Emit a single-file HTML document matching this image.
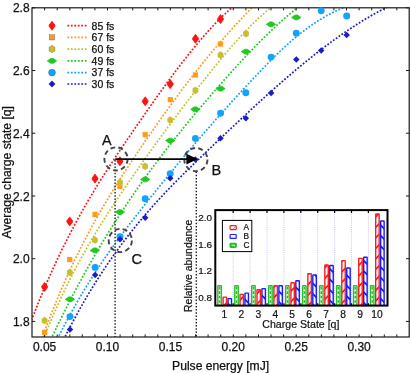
<!DOCTYPE html>
<html><head><meta charset="utf-8"><title>Chart</title>
<style>html,body{margin:0;padding:0;background:#fff;}body{width:410px;height:373px;overflow:hidden;position:relative;font-family:"Liberation Sans",sans-serif;}</style>
</head><body>
<svg width="410" height="373" viewBox="0 0 410 373" style="position:absolute;left:0;top:0;will-change:transform">
<defs><clipPath id="cp"><rect x="32" y="7.8" width="377.2" height="329.2"/></clipPath></defs>
<rect width="410" height="373" fill="#fff"/>
<g clip-path="url(#cp)" fill="none" stroke-width="1.7" stroke-dasharray="1.8 1.67">
<path d="M29.0,326.9 L29.9,324.6 L30.7,322.3 L31.6,320.0 L32.4,317.8 L33.3,315.6 L34.2,313.4 L35.0,311.2 L35.9,309.0 L36.7,306.9 L37.6,304.7 L38.4,302.6 L39.3,300.5 L40.2,298.4 L41.0,296.3 L41.9,294.2 L42.7,292.2 L43.6,290.1 L44.5,288.1 L45.3,286.1 L46.2,284.1 L47.0,282.1 L47.9,280.1 L48.7,278.2 L49.6,276.2 L50.5,274.3 L51.3,272.4 L52.2,270.5 L53.0,268.6 L53.9,266.7 L54.8,264.8 L55.6,263.0 L56.5,261.1 L57.3,259.3 L58.2,257.5 L59.1,255.7 L59.9,253.9 L60.8,252.1 L61.6,250.3 L62.5,248.6 L63.3,246.8 L64.2,245.1 L65.1,243.4 L65.9,241.7 L66.8,240.0 L67.6,238.3 L68.5,236.6 L69.4,234.9 L70.2,233.3 L71.1,231.6 L71.9,230.0 L72.8,228.3 L73.6,226.7 L74.5,225.1 L75.4,223.5 L76.2,221.9 L77.1,220.3 L77.9,218.7 L78.8,217.2 L79.7,215.6 L80.5,214.1 L81.4,212.5 L82.2,211.0 L83.1,209.5 L83.9,208.0 L84.8,206.5 L85.7,205.0 L86.5,203.5 L87.4,202.0 L88.2,200.5 L89.1,199.1 L90.0,197.6 L90.8,196.2 L91.7,194.7 L92.5,193.3 L93.4,191.9 L94.3,190.4 L95.1,189.0 L96.0,187.6 L96.8,186.2 L97.7,184.8 L98.5,183.4 L99.4,182.0 L100.3,180.7 L101.1,179.3 L102.0,177.9 L102.8,176.6 L103.7,175.2 L104.6,173.8 L105.4,172.5 L106.3,171.2 L107.1,169.8 L108.0,168.5 L108.8,167.2 L109.7,165.8 L110.6,164.5 L111.4,163.2 L112.3,161.9 L113.1,160.6 L114.0,159.3 L114.9,158.0 L115.7,156.7 L116.6,155.4 L117.4,154.1 L118.3,152.8 L119.2,151.6 L120.0,150.3 L120.9,149.0 L121.7,147.7 L122.6,146.5 L123.4,145.2 L124.3,143.9 L125.2,142.7 L126.0,141.4 L126.9,140.1 L127.7,138.9 L128.6,137.6 L129.5,136.4 L130.3,135.1 L131.2,133.9 L132.0,132.6 L132.9,131.4 L133.7,130.1 L134.6,128.9 L135.5,127.6 L136.3,126.4 L137.2,125.1 L138.0,123.9 L138.9,122.7 L139.8,121.4 L140.6,120.2 L141.5,118.9 L142.3,117.7 L143.2,116.4 L144.0,115.2 L144.9,114.0 L145.8,112.7 L146.6,111.5 L147.5,110.3 L148.3,109.1 L149.2,107.8 L150.1,106.6 L150.9,105.4 L151.8,104.1 L152.6,102.9 L153.5,101.7 L154.4,100.5 L155.2,99.3 L156.1,98.1 L156.9,96.9 L157.8,95.6 L158.6,94.4 L159.5,93.2 L160.4,92.0 L161.2,90.8 L162.1,89.6 L162.9,88.5 L163.8,87.3 L164.7,86.1 L165.5,84.9 L166.4,83.7 L167.2,82.5 L168.1,81.4 L168.9,80.2 L169.8,79.0 L170.7,77.9 L171.5,76.7 L172.4,75.5 L173.2,74.4 L174.1,73.2 L175.0,72.1 L175.8,70.9 L176.7,69.8 L177.5,68.7 L178.4,67.5 L179.3,66.4 L180.1,65.3 L181.0,64.2 L181.8,63.0 L182.7,61.9 L183.5,60.8 L184.4,59.7 L185.3,58.6 L186.1,57.5 L187.0,56.4 L187.8,55.4 L188.7,54.3 L189.6,53.2 L190.4,52.1 L191.3,51.1 L192.1,50.0 L193.0,49.0 L193.8,47.9 L194.7,46.9 L195.6,45.8 L196.4,44.8 L197.3,43.8 L198.1,42.7 L199.0,41.7 L199.9,40.7 L200.7,39.7 L201.6,38.7 L202.4,37.7 L203.3,36.7 L204.1,35.7 L205.0,34.8 L205.9,33.8 L206.7,32.8 L207.6,31.9 L208.4,30.9 L209.3,30.0 L210.2,29.0 L211.0,28.1 L211.9,27.2 L212.7,26.2 L213.6,25.3 L214.5,24.4 L215.3,23.5 L216.2,22.6 L217.0,21.7 L217.9,20.9 L218.7,20.0 L219.6,19.1 L220.5,18.3 L221.3,17.4 L222.2,16.6 L223.0,15.7 L223.9,14.9 L224.8,14.1 L225.6,13.3 L226.5,12.5 L227.3,11.7 L228.2,10.9 L229.0,10.1 L229.9,9.3 L230.8,8.5 L231.6,7.8 L232.5,7.0 L233.3,6.3 L234.2,5.6" stroke="#ff1212"/>
<path d="M39.7,344.5 L40.6,342.0 L41.5,339.6 L42.4,337.1 L43.3,334.6 L44.2,332.2 L45.1,329.8 L46.0,327.4 L46.9,325.1 L47.8,322.7 L48.7,320.4 L49.6,318.1 L50.5,315.8 L51.4,313.5 L52.3,311.2 L53.2,309.0 L54.1,306.7 L55.0,304.5 L55.9,302.3 L56.8,300.2 L57.7,298.0 L58.6,295.9 L59.5,293.7 L60.4,291.6 L61.3,289.5 L62.2,287.4 L63.1,285.4 L64.0,283.3 L64.9,281.3 L65.8,279.3 L66.7,277.2 L67.6,275.3 L68.5,273.3 L69.4,271.3 L70.3,269.4 L71.2,267.4 L72.1,265.5 L73.0,263.6 L73.9,261.7 L74.8,259.8 L75.8,258.0 L76.7,256.1 L77.6,254.3 L78.5,252.4 L79.4,250.6 L80.3,248.8 L81.2,247.0 L82.1,245.2 L83.0,243.5 L83.9,241.7 L84.8,240.0 L85.7,238.2 L86.6,236.5 L87.5,234.8 L88.4,233.1 L89.3,231.4 L90.2,229.8 L91.1,228.1 L92.0,226.4 L92.9,224.8 L93.8,223.1 L94.7,221.5 L95.6,219.9 L96.5,218.3 L97.4,216.7 L98.3,215.1 L99.2,213.5 L100.1,212.0 L101.0,210.4 L101.9,208.8 L102.8,207.3 L103.7,205.8 L104.6,204.2 L105.5,202.7 L106.4,201.2 L107.3,199.7 L108.2,198.2 L109.1,196.7 L110.0,195.2 L110.9,193.8 L111.8,192.3 L112.7,190.8 L113.6,189.4 L114.5,187.9 L115.4,186.5 L116.3,185.0 L117.2,183.6 L118.1,182.2 L119.0,180.8 L119.9,179.3 L120.8,177.9 L121.7,176.5 L122.6,175.1 L123.5,173.7 L124.4,172.3 L125.3,171.0 L126.2,169.6 L127.1,168.2 L128.0,166.8 L128.9,165.5 L129.8,164.1 L130.7,162.7 L131.6,161.4 L132.5,160.0 L133.4,158.7 L134.3,157.3 L135.2,156.0 L136.1,154.6 L137.0,153.3 L137.9,151.9 L138.8,150.6 L139.7,149.3 L140.6,147.9 L141.5,146.6 L142.4,145.3 L143.3,144.0 L144.2,142.6 L145.1,141.3 L146.0,140.0 L146.9,138.7 L147.9,137.4 L148.8,136.1 L149.7,134.8 L150.6,133.5 L151.5,132.2 L152.4,130.9 L153.3,129.6 L154.2,128.3 L155.1,127.0 L156.0,125.7 L156.9,124.4 L157.8,123.1 L158.7,121.9 L159.6,120.6 L160.5,119.3 L161.4,118.1 L162.3,116.8 L163.2,115.5 L164.1,114.3 L165.0,113.0 L165.9,111.8 L166.8,110.5 L167.7,109.3 L168.6,108.0 L169.5,106.8 L170.4,105.5 L171.3,104.3 L172.2,103.1 L173.1,101.8 L174.0,100.6 L174.9,99.4 L175.8,98.2 L176.7,97.0 L177.6,95.7 L178.5,94.5 L179.4,93.3 L180.3,92.1 L181.2,90.9 L182.1,89.7 L183.0,88.5 L183.9,87.3 L184.8,86.2 L185.7,85.0 L186.6,83.8 L187.5,82.6 L188.4,81.4 L189.3,80.3 L190.2,79.1 L191.1,77.9 L192.0,76.8 L192.9,75.6 L193.8,74.5 L194.7,73.3 L195.6,72.2 L196.5,71.0 L197.4,69.9 L198.3,68.7 L199.2,67.6 L200.1,66.5 L201.0,65.4 L201.9,64.2 L202.8,63.1 L203.7,62.0 L204.6,60.9 L205.5,59.8 L206.4,58.7 L207.3,57.6 L208.2,56.5 L209.1,55.4 L210.0,54.3 L210.9,53.2 L211.8,52.1 L212.7,51.0 L213.6,50.0 L214.5,48.9 L215.4,47.8 L216.3,46.7 L217.2,45.7 L218.1,44.6 L219.0,43.6 L220.0,42.5 L220.9,41.5 L221.8,40.4 L222.7,39.4 L223.6,38.4 L224.5,37.3 L225.4,36.3 L226.3,35.3 L227.2,34.3 L228.1,33.2 L229.0,32.2 L229.9,31.2 L230.8,30.2 L231.7,29.2 L232.6,28.2 L233.5,27.2 L234.4,26.2 L235.3,25.2 L236.2,24.3 L237.1,23.3 L238.0,22.3 L238.9,21.3 L239.8,20.4 L240.7,19.4 L241.6,18.5 L242.5,17.5 L243.4,16.6 L244.3,15.6 L245.2,14.7 L246.1,13.7 L247.0,12.8 L247.9,11.9 L248.8,10.9 L249.7,10.0 L250.6,9.1 L251.5,8.2 L252.4,7.3 L253.3,6.4 L254.2,5.5 L255.1,4.6" stroke="#ff9a1e"/>
<path d="M41.6,343.2 L42.6,340.7 L43.5,338.3 L44.5,335.9 L45.5,333.5 L46.4,331.1 L47.4,328.8 L48.4,326.5 L49.4,324.2 L50.3,321.9 L51.3,319.6 L52.3,317.4 L53.2,315.1 L54.2,312.9 L55.2,310.7 L56.1,308.6 L57.1,306.4 L58.1,304.3 L59.1,302.1 L60.0,300.0 L61.0,298.0 L62.0,295.9 L62.9,293.8 L63.9,291.8 L64.9,289.8 L65.8,287.8 L66.8,285.8 L67.8,283.8 L68.7,281.9 L69.7,279.9 L70.7,278.0 L71.7,276.1 L72.6,274.2 L73.6,272.3 L74.6,270.5 L75.5,268.6 L76.5,266.8 L77.5,264.9 L78.4,263.1 L79.4,261.3 L80.4,259.5 L81.3,257.8 L82.3,256.0 L83.3,254.3 L84.3,252.5 L85.2,250.8 L86.2,249.1 L87.2,247.4 L88.1,245.7 L89.1,244.0 L90.1,242.3 L91.0,240.7 L92.0,239.0 L93.0,237.4 L94.0,235.8 L94.9,234.2 L95.9,232.5 L96.9,230.9 L97.8,229.4 L98.8,227.8 L99.8,226.2 L100.7,224.6 L101.7,223.1 L102.7,221.5 L103.6,220.0 L104.6,218.5 L105.6,216.9 L106.6,215.4 L107.5,213.9 L108.5,212.4 L109.5,210.9 L110.4,209.4 L111.4,207.9 L112.4,206.4 L113.3,205.0 L114.3,203.5 L115.3,202.0 L116.2,200.6 L117.2,199.1 L118.2,197.7 L119.2,196.2 L120.1,194.8 L121.1,193.3 L122.1,191.9 L123.0,190.5 L124.0,189.0 L125.0,187.6 L125.9,186.2 L126.9,184.8 L127.9,183.4 L128.9,182.0 L129.8,180.5 L130.8,179.1 L131.8,177.7 L132.7,176.3 L133.7,174.9 L134.7,173.5 L135.6,172.1 L136.6,170.7 L137.6,169.4 L138.5,168.0 L139.5,166.6 L140.5,165.2 L141.5,163.8 L142.4,162.5 L143.4,161.1 L144.4,159.7 L145.3,158.3 L146.3,157.0 L147.3,155.6 L148.2,154.3 L149.2,152.9 L150.2,151.6 L151.1,150.2 L152.1,148.9 L153.1,147.5 L154.1,146.2 L155.0,144.8 L156.0,143.5 L157.0,142.1 L157.9,140.8 L158.9,139.5 L159.9,138.2 L160.8,136.8 L161.8,135.5 L162.8,134.2 L163.8,132.9 L164.7,131.5 L165.7,130.2 L166.7,128.9 L167.6,127.6 L168.6,126.3 L169.6,125.0 L170.5,123.7 L171.5,122.4 L172.5,121.1 L173.4,119.8 L174.4,118.5 L175.4,117.2 L176.4,115.9 L177.3,114.6 L178.3,113.4 L179.3,112.1 L180.2,110.8 L181.2,109.5 L182.2,108.2 L183.1,107.0 L184.1,105.7 L185.1,104.4 L186.0,103.2 L187.0,101.9 L188.0,100.6 L189.0,99.4 L189.9,98.1 L190.9,96.9 L191.9,95.6 L192.8,94.4 L193.8,93.1 L194.8,91.9 L195.7,90.6 L196.7,89.4 L197.7,88.1 L198.7,86.9 L199.6,85.6 L200.6,84.4 L201.6,83.2 L202.5,81.9 L203.5,80.7 L204.5,79.5 L205.4,78.3 L206.4,77.0 L207.4,75.8 L208.3,74.6 L209.3,73.4 L210.3,72.2 L211.3,71.0 L212.2,69.8 L213.2,68.5 L214.2,67.3 L215.1,66.1 L216.1,65.0 L217.1,63.8 L218.0,62.6 L219.0,61.4 L220.0,60.2 L220.9,59.0 L221.9,57.9 L222.9,56.7 L223.9,55.5 L224.8,54.4 L225.8,53.2 L226.8,52.1 L227.7,51.0 L228.7,49.8 L229.7,48.7 L230.6,47.6 L231.6,46.5 L232.6,45.3 L233.6,44.2 L234.5,43.1 L235.5,42.0 L236.5,41.0 L237.4,39.9 L238.4,38.8 L239.4,37.7 L240.3,36.7 L241.3,35.6 L242.3,34.6 L243.2,33.5 L244.2,32.5 L245.2,31.5 L246.2,30.5 L247.1,29.5 L248.1,28.5 L249.1,27.5 L250.0,26.5 L251.0,25.5 L252.0,24.5 L252.9,23.6 L253.9,22.6 L254.9,21.7 L255.8,20.8 L256.8,19.8 L257.8,18.9 L258.8,18.0 L259.7,17.1 L260.7,16.3 L261.7,15.4 L262.6,14.5 L263.6,13.7 L264.6,12.8 L265.5,12.0 L266.5,11.2 L267.5,10.4 L268.5,9.6 L269.4,8.8 L270.4,8.0 L271.4,7.2 L272.3,6.5 L273.3,5.7" stroke="#c8bf2c"/>
<path d="M49.4,342.6 L50.4,340.4 L51.5,338.1 L52.5,335.9 L53.6,333.7 L54.6,331.5 L55.7,329.3 L56.7,327.1 L57.8,325.0 L58.8,322.8 L59.9,320.7 L60.9,318.6 L62.0,316.4 L63.0,314.3 L64.1,312.2 L65.1,310.1 L66.2,308.1 L67.2,306.0 L68.3,303.9 L69.3,301.9 L70.4,299.9 L71.4,297.8 L72.5,295.8 L73.5,293.8 L74.6,291.8 L75.6,289.8 L76.7,287.9 L77.7,285.9 L78.8,283.9 L79.8,282.0 L80.9,280.1 L81.9,278.1 L83.0,276.2 L84.0,274.3 L85.1,272.4 L86.1,270.5 L87.2,268.7 L88.2,266.8 L89.3,264.9 L90.3,263.1 L91.4,261.2 L92.4,259.4 L93.5,257.6 L94.5,255.8 L95.6,254.0 L96.6,252.2 L97.7,250.4 L98.7,248.6 L99.8,246.8 L100.8,245.1 L101.9,243.3 L102.9,241.6 L104.0,239.8 L105.0,238.1 L106.1,236.4 L107.1,234.7 L108.2,233.0 L109.2,231.3 L110.3,229.6 L111.3,227.9 L112.4,226.2 L113.4,224.6 L114.5,222.9 L115.5,221.3 L116.6,219.6 L117.6,218.0 L118.7,216.4 L119.7,214.8 L120.8,213.1 L121.8,211.5 L122.9,209.9 L123.9,208.4 L125.0,206.8 L126.0,205.2 L127.1,203.6 L128.1,202.1 L129.2,200.5 L130.2,199.0 L131.3,197.4 L132.3,195.9 L133.4,194.4 L134.4,192.8 L135.5,191.3 L136.5,189.8 L137.6,188.3 L138.6,186.8 L139.7,185.3 L140.7,183.8 L141.8,182.4 L142.8,180.9 L143.9,179.4 L144.9,178.0 L146.0,176.5 L147.0,175.1 L148.1,173.6 L149.1,172.2 L150.2,170.8 L151.2,169.3 L152.3,167.9 L153.3,166.5 L154.4,165.1 L155.4,163.7 L156.5,162.3 L157.5,160.9 L158.6,159.5 L159.6,158.1 L160.7,156.7 L161.7,155.4 L162.8,154.0 L163.8,152.6 L164.9,151.3 L165.9,149.9 L167.0,148.6 L168.0,147.2 L169.1,145.9 L170.1,144.5 L171.2,143.2 L172.2,141.9 L173.3,140.5 L174.3,139.2 L175.4,137.9 L176.4,136.6 L177.5,135.3 L178.5,134.0 L179.6,132.7 L180.6,131.4 L181.7,130.1 L182.7,128.8 L183.8,127.5 L184.8,126.2 L185.9,124.9 L186.9,123.7 L188.0,122.4 L189.0,121.1 L190.1,119.8 L191.1,118.6 L192.2,117.3 L193.2,116.1 L194.3,114.8 L195.3,113.5 L196.4,112.3 L197.4,111.0 L198.5,109.8 L199.5,108.6 L200.6,107.3 L201.6,106.1 L202.7,104.8 L203.7,103.6 L204.8,102.4 L205.8,101.2 L206.9,99.9 L207.9,98.7 L209.0,97.5 L210.0,96.3 L211.1,95.0 L212.1,93.8 L213.2,92.6 L214.2,91.4 L215.3,90.2 L216.3,89.0 L217.4,87.8 L218.4,86.6 L219.5,85.4 L220.5,84.2 L221.6,83.0 L222.6,81.8 L223.7,80.6 L224.7,79.4 L225.8,78.2 L226.8,77.1 L227.9,75.9 L228.9,74.7 L230.0,73.5 L231.0,72.4 L232.1,71.2 L233.1,70.0 L234.2,68.9 L235.2,67.7 L236.3,66.6 L237.3,65.4 L238.4,64.3 L239.4,63.1 L240.5,62.0 L241.5,60.9 L242.6,59.7 L243.6,58.6 L244.7,57.5 L245.7,56.4 L246.8,55.3 L247.8,54.2 L248.9,53.0 L249.9,51.9 L251.0,50.9 L252.0,49.8 L253.1,48.7 L254.1,47.6 L255.2,46.5 L256.2,45.4 L257.3,44.4 L258.3,43.3 L259.4,42.2 L260.4,41.2 L261.5,40.1 L262.5,39.1 L263.6,38.1 L264.6,37.0 L265.7,36.0 L266.7,35.0 L267.8,34.0 L268.8,32.9 L269.9,31.9 L270.9,30.9 L272.0,29.9 L273.0,28.9 L274.1,28.0 L275.1,27.0 L276.2,26.0 L277.2,25.0 L278.3,24.1 L279.3,23.1 L280.4,22.2 L281.4,21.2 L282.5,20.3 L283.5,19.4 L284.6,18.4 L285.6,17.5 L286.7,16.6 L287.7,15.7 L288.8,14.8 L289.8,13.9 L290.9,13.0 L291.9,12.1 L293.0,11.3 L294.0,10.4 L295.1,9.5 L296.1,8.7 L297.2,7.8 L298.2,7.0 L299.3,6.2 L300.3,5.4" stroke="#22c822"/>
<path d="M55.9,342.1 L57.1,339.6 L58.3,337.2 L59.5,334.7 L60.8,332.3 L62.0,329.9 L63.2,327.6 L64.4,325.2 L65.6,322.9 L66.8,320.6 L68.1,318.4 L69.3,316.1 L70.5,313.9 L71.7,311.7 L72.9,309.5 L74.1,307.3 L75.3,305.1 L76.6,303.0 L77.8,300.9 L79.0,298.8 L80.2,296.7 L81.4,294.7 L82.6,292.6 L83.9,290.6 L85.1,288.6 L86.3,286.6 L87.5,284.6 L88.7,282.7 L89.9,280.7 L91.1,278.8 L92.4,276.9 L93.6,275.0 L94.8,273.1 L96.0,271.2 L97.2,269.4 L98.4,267.5 L99.7,265.7 L100.9,263.9 L102.1,262.1 L103.3,260.3 L104.5,258.5 L105.7,256.8 L107.0,255.0 L108.2,253.3 L109.4,251.6 L110.6,249.8 L111.8,248.1 L113.0,246.4 L114.2,244.8 L115.5,243.1 L116.7,241.4 L117.9,239.8 L119.1,238.1 L120.3,236.5 L121.5,234.8 L122.8,233.2 L124.0,231.6 L125.2,230.0 L126.4,228.4 L127.6,226.8 L128.8,225.2 L130.0,223.6 L131.3,222.0 L132.5,220.5 L133.7,218.9 L134.9,217.3 L136.1,215.8 L137.3,214.2 L138.6,212.7 L139.8,211.1 L141.0,209.6 L142.2,208.0 L143.4,206.5 L144.6,205.0 L145.8,203.4 L147.1,201.9 L148.3,200.4 L149.5,198.8 L150.7,197.3 L151.9,195.8 L153.1,194.3 L154.4,192.8 L155.6,191.2 L156.8,189.7 L158.0,188.2 L159.2,186.7 L160.4,185.2 L161.6,183.7 L162.9,182.2 L164.1,180.7 L165.3,179.2 L166.5,177.8 L167.7,176.3 L168.9,174.8 L170.2,173.3 L171.4,171.8 L172.6,170.4 L173.8,168.9 L175.0,167.4 L176.2,165.9 L177.4,164.5 L178.7,163.0 L179.9,161.6 L181.1,160.1 L182.3,158.6 L183.5,157.2 L184.7,155.8 L186.0,154.3 L187.2,152.9 L188.4,151.4 L189.6,150.0 L190.8,148.5 L192.0,147.1 L193.2,145.7 L194.5,144.3 L195.7,142.8 L196.9,141.4 L198.1,140.0 L199.3,138.6 L200.5,137.2 L201.8,135.8 L203.0,134.4 L204.2,132.9 L205.4,131.5 L206.6,130.1 L207.8,128.8 L209.1,127.4 L210.3,126.0 L211.5,124.6 L212.7,123.2 L213.9,121.8 L215.1,120.4 L216.3,119.1 L217.6,117.7 L218.8,116.3 L220.0,114.9 L221.2,113.6 L222.4,112.2 L223.6,110.9 L224.9,109.5 L226.1,108.1 L227.3,106.8 L228.5,105.5 L229.7,104.1 L230.9,102.8 L232.1,101.4 L233.4,100.1 L234.6,98.8 L235.8,97.4 L237.0,96.1 L238.2,94.8 L239.4,93.4 L240.7,92.1 L241.9,90.8 L243.1,89.5 L244.3,88.2 L245.5,86.9 L246.7,85.6 L247.9,84.3 L249.2,83.0 L250.4,81.7 L251.6,80.4 L252.8,79.1 L254.0,77.8 L255.2,76.5 L256.5,75.2 L257.7,74.0 L258.9,72.7 L260.1,71.4 L261.3,70.1 L262.5,68.9 L263.7,67.6 L265.0,66.4 L266.2,65.1 L267.4,63.9 L268.6,62.6 L269.8,61.4 L271.0,60.2 L272.3,59.0 L273.5,57.7 L274.7,56.5 L275.9,55.3 L277.1,54.1 L278.3,53.0 L279.5,51.8 L280.8,50.6 L282.0,49.5 L283.2,48.3 L284.4,47.2 L285.6,46.1 L286.8,45.0 L288.1,43.9 L289.3,42.8 L290.5,41.7 L291.7,40.7 L292.9,39.6 L294.1,38.6 L295.3,37.6 L296.6,36.6 L297.8,35.6 L299.0,34.6 L300.2,33.6 L301.4,32.7 L302.6,31.7 L303.9,30.8 L305.1,29.9 L306.3,29.0 L307.5,28.1 L308.7,27.2 L309.9,26.3 L311.2,25.5 L312.4,24.6 L313.6,23.8 L314.8,23.0 L316.0,22.2 L317.2,21.4 L318.4,20.6 L319.7,19.9 L320.9,19.1 L322.1,18.4 L323.3,17.7 L324.5,17.0 L325.7,16.3 L327.0,15.6 L328.2,15.0 L329.4,14.3 L330.6,13.7 L331.8,13.1 L333.0,12.4 L334.2,11.8 L335.5,11.3 L336.7,10.7 L337.9,10.2 L339.1,9.6 L340.3,9.1 L341.5,8.6 L342.8,8.1 L344.0,7.6 L345.2,7.2 L346.4,6.7" stroke="#12a2ff"/>
<path d="M62.1,342.7 L63.5,339.9 L64.8,337.2 L66.2,334.5 L67.6,331.8 L68.9,329.2 L70.3,326.5 L71.7,323.9 L73.0,321.4 L74.4,318.8 L75.8,316.3 L77.2,313.8 L78.5,311.3 L79.9,308.9 L81.3,306.4 L82.6,304.0 L84.0,301.6 L85.4,299.3 L86.7,296.9 L88.1,294.6 L89.5,292.3 L90.8,290.1 L92.2,287.8 L93.6,285.6 L94.9,283.4 L96.3,281.2 L97.7,279.0 L99.1,276.9 L100.4,274.8 L101.8,272.7 L103.2,270.6 L104.5,268.5 L105.9,266.5 L107.3,264.4 L108.6,262.4 L110.0,260.4 L111.4,258.5 L112.7,256.5 L114.1,254.6 L115.5,252.7 L116.8,250.8 L118.2,248.9 L119.6,247.0 L121.0,245.2 L122.3,243.3 L123.7,241.5 L125.1,239.7 L126.4,237.9 L127.8,236.1 L129.2,234.4 L130.5,232.6 L131.9,230.9 L133.3,229.2 L134.6,227.5 L136.0,225.8 L137.4,224.1 L138.7,222.5 L140.1,220.8 L141.5,219.2 L142.8,217.6 L144.2,216.0 L145.6,214.4 L147.0,212.8 L148.3,211.2 L149.7,209.7 L151.1,208.1 L152.4,206.6 L153.8,205.0 L155.2,203.5 L156.5,202.0 L157.9,200.5 L159.3,199.0 L160.6,197.5 L162.0,196.1 L163.4,194.6 L164.7,193.2 L166.1,191.7 L167.5,190.3 L168.9,188.8 L170.2,187.4 L171.6,186.0 L173.0,184.6 L174.3,183.2 L175.7,181.8 L177.1,180.4 L178.4,179.0 L179.8,177.7 L181.2,176.3 L182.5,174.9 L183.9,173.6 L185.3,172.2 L186.6,170.9 L188.0,169.5 L189.4,168.2 L190.8,166.9 L192.1,165.5 L193.5,164.2 L194.9,162.9 L196.2,161.6 L197.6,160.2 L199.0,158.9 L200.3,157.6 L201.7,156.3 L203.1,155.0 L204.4,153.7 L205.8,152.4 L207.2,151.1 L208.5,149.7 L209.9,148.4 L211.3,147.1 L212.6,145.8 L214.0,144.5 L215.4,143.2 L216.8,141.9 L218.1,140.6 L219.5,139.3 L220.9,138.0 L222.2,136.7 L223.6,135.4 L225.0,134.1 L226.3,132.8 L227.7,131.5 L229.1,130.2 L230.4,128.9 L231.8,127.6 L233.2,126.3 L234.5,125.1 L235.9,123.8 L237.3,122.5 L238.7,121.2 L240.0,119.9 L241.4,118.6 L242.8,117.4 L244.1,116.1 L245.5,114.8 L246.9,113.5 L248.2,112.3 L249.6,111.0 L251.0,109.7 L252.3,108.5 L253.7,107.2 L255.1,105.9 L256.4,104.7 L257.8,103.4 L259.2,102.2 L260.5,100.9 L261.9,99.7 L263.3,98.4 L264.7,97.2 L266.0,96.0 L267.4,94.7 L268.8,93.5 L270.1,92.3 L271.5,91.1 L272.9,89.8 L274.2,88.6 L275.6,87.4 L277.0,86.2 L278.3,85.0 L279.7,83.8 L281.1,82.6 L282.4,81.4 L283.8,80.2 L285.2,79.0 L286.6,77.8 L287.9,76.7 L289.3,75.5 L290.7,74.3 L292.0,73.2 L293.4,72.0 L294.8,70.8 L296.1,69.7 L297.5,68.5 L298.9,67.4 L300.2,66.3 L301.6,65.1 L303.0,64.0 L304.3,62.9 L305.7,61.8 L307.1,60.7 L308.5,59.6 L309.8,58.5 L311.2,57.4 L312.6,56.3 L313.9,55.2 L315.3,54.1 L316.7,53.0 L318.0,52.0 L319.4,50.9 L320.8,49.9 L322.1,48.8 L323.5,47.8 L324.9,46.7 L326.2,45.7 L327.6,44.7 L329.0,43.6 L330.3,42.6 L331.7,41.6 L333.1,40.6 L334.5,39.6 L335.8,38.7 L337.2,37.7 L338.6,36.7 L339.9,35.7 L341.3,34.8 L342.7,33.8 L344.0,32.9 L345.4,31.9 L346.8,31.0 L348.1,30.1 L349.5,29.2 L350.9,28.3 L352.2,27.4 L353.6,26.5 L355.0,25.6 L356.4,24.7 L357.7,23.8 L359.1,23.0 L360.5,22.1 L361.8,21.3 L363.2,20.4 L364.6,19.6 L365.9,18.8 L367.3,18.0 L368.7,17.2 L370.0,16.4 L371.4,15.6 L372.8,14.8 L374.1,14.0 L375.5,13.3 L376.9,12.5 L378.3,11.8 L379.6,11.0 L381.0,10.3 L382.4,9.6 L383.7,8.9 L385.1,8.2 L386.5,7.5 L387.8,6.8 L389.2,6.2" stroke="#1c1cc6"/>
</g>
<path d="M115.1,160 V337.0" stroke="#222" stroke-width="1.4" stroke-dasharray="1.5 1.7" fill="none"/>
<path d="M196.3,171.5 V337.0" stroke="#222" stroke-width="1.4" stroke-dasharray="1.5 1.7" fill="none"/>
<rect x="32.0" y="7.8" width="377.2" height="329.2" fill="none" stroke="#1a1a1a" stroke-width="1.2"/>
<path d="M44.6,337.0 v-2.6 M44.6,7.8 v2.6 M57.2,337.0 v-2.6 M57.2,7.8 v2.6 M69.8,337.0 v-2.6 M69.8,7.8 v2.6 M82.3,337.0 v-2.6 M82.3,7.8 v2.6 M94.9,337.0 v-2.6 M94.9,7.8 v2.6 M107.5,337.0 v-2.6 M107.5,7.8 v2.6 M120.1,337.0 v-2.6 M120.1,7.8 v2.6 M132.7,337.0 v-2.6 M132.7,7.8 v2.6 M145.2,337.0 v-2.6 M145.2,7.8 v2.6 M157.8,337.0 v-2.6 M157.8,7.8 v2.6 M170.4,337.0 v-2.6 M170.4,7.8 v2.6 M183.0,337.0 v-2.6 M183.0,7.8 v2.6 M195.6,337.0 v-2.6 M195.6,7.8 v2.6 M208.1,337.0 v-2.6 M208.1,7.8 v2.6 M220.7,337.0 v-2.6 M220.7,7.8 v2.6 M233.3,337.0 v-2.6 M233.3,7.8 v2.6 M245.9,337.0 v-2.6 M245.9,7.8 v2.6 M258.5,337.0 v-2.6 M258.5,7.8 v2.6 M271.0,337.0 v-2.6 M271.0,7.8 v2.6 M283.6,337.0 v-2.6 M283.6,7.8 v2.6 M296.2,337.0 v-2.6 M296.2,7.8 v2.6 M308.8,337.0 v-2.6 M308.8,7.8 v2.6 M321.4,337.0 v-2.6 M321.4,7.8 v2.6 M333.9,337.0 v-2.6 M333.9,7.8 v2.6 M346.5,337.0 v-2.6 M346.5,7.8 v2.6 M359.1,337.0 v-2.6 M359.1,7.8 v2.6 M371.7,337.0 v-2.6 M371.7,7.8 v2.6 M384.3,337.0 v-2.6 M384.3,7.8 v2.6 M396.8,337.0 v-2.6 M396.8,7.8 v2.6 M32.0,7.8 h3.2 M409.2,7.8 h-3.2 M32.0,70.5 h3.2 M409.2,70.5 h-3.2 M32.0,133.2 h3.2 M409.2,133.2 h-3.2 M32.0,196.0 h3.2 M409.2,196.0 h-3.2 M32.0,258.7 h3.2 M409.2,258.7 h-3.2 M32.0,321.4 h3.2 M409.2,321.4 h-3.2" stroke="#1a1a1a" stroke-width="1" fill="none"/>
<g>
<rect x="42.00" y="329.70" width="5.20" height="5.20" fill="#ff9a1e"/>
<rect x="67.10" y="256.90" width="5.20" height="5.20" fill="#ff9a1e"/>
<rect x="92.40" y="211.80" width="5.20" height="5.20" fill="#ff9a1e"/>
<rect x="117.30" y="183.80" width="5.20" height="5.20" fill="#ff9a1e"/>
<rect x="142.60" y="132.10" width="5.20" height="5.20" fill="#ff9a1e"/>
<rect x="167.70" y="97.10" width="5.20" height="5.20" fill="#ff9a1e"/>
<rect x="192.80" y="72.40" width="5.20" height="5.20" fill="#ff9a1e"/>
<rect x="217.90" y="41.40" width="5.20" height="5.20" fill="#ff9a1e"/>
<polygon points="47.47,322.47 44.60,324.34 41.73,322.47 41.73,318.73 44.60,316.86 47.47,318.73" fill="#c8bf2c"/>
<polygon points="72.67,274.27 69.80,276.14 66.93,274.27 66.93,270.53 69.80,268.66 72.67,270.53" fill="#c8bf2c"/>
<polygon points="97.77,241.97 94.90,243.84 92.03,241.97 92.03,238.23 94.90,236.36 97.77,238.23" fill="#c8bf2c"/>
<polygon points="122.77,184.27 119.90,186.14 117.03,184.27 117.03,180.53 119.90,178.66 122.77,180.53" fill="#c8bf2c"/>
<polygon points="147.97,168.17 145.10,170.04 142.23,168.17 142.23,164.43 145.10,162.56 147.97,164.43" fill="#c8bf2c"/>
<polygon points="173.07,121.87 170.20,123.74 167.33,121.87 167.33,118.13 170.20,116.26 173.07,118.13" fill="#c8bf2c"/>
<polygon points="198.27,92.27 195.40,94.14 192.53,92.27 192.53,88.53 195.40,86.66 198.27,88.53" fill="#c8bf2c"/>
<polygon points="223.37,56.97 220.50,58.84 217.63,56.97 217.63,53.23 220.50,51.36 223.37,53.23" fill="#c8bf2c"/>
<polygon points="248.87,35.57 246.00,37.44 243.13,35.57 243.13,31.83 246.00,29.96 248.87,31.83" fill="#c8bf2c"/>
<polygon points="44.60,282.40 47.45,286.30 47.45,287.50 44.60,291.40 41.75,287.50 41.75,286.30" fill="#ff1212" stroke="#ff1212" stroke-width="0.8" stroke-linejoin="round"/>
<polygon points="69.70,216.90 72.55,220.80 72.55,222.00 69.70,225.90 66.85,222.00 66.85,220.80" fill="#ff1212" stroke="#ff1212" stroke-width="0.8" stroke-linejoin="round"/>
<polygon points="95.00,174.10 97.85,178.00 97.85,179.20 95.00,183.10 92.15,179.20 92.15,178.00" fill="#ff1212" stroke="#ff1212" stroke-width="0.8" stroke-linejoin="round"/>
<polygon points="119.90,156.80 122.75,160.70 122.75,161.90 119.90,165.80 117.05,161.90 117.05,160.70" fill="#ff1212" stroke="#ff1212" stroke-width="0.8" stroke-linejoin="round"/>
<polygon points="145.20,96.80 148.05,100.70 148.05,101.90 145.20,105.80 142.35,101.90 142.35,100.70" fill="#ff1212" stroke="#ff1212" stroke-width="0.8" stroke-linejoin="round"/>
<polygon points="170.20,79.60 173.05,83.50 173.05,84.70 170.20,88.60 167.35,84.70 167.35,83.50" fill="#ff1212" stroke="#ff1212" stroke-width="0.8" stroke-linejoin="round"/>
<polygon points="195.50,34.30 198.35,38.20 198.35,39.40 195.50,43.30 192.65,39.40 192.65,38.20" fill="#ff1212" stroke="#ff1212" stroke-width="0.8" stroke-linejoin="round"/>
<polygon points="220.50,14.60 223.35,18.50 223.35,19.70 220.50,23.60 217.65,19.70 217.65,18.50" fill="#ff1212" stroke="#ff1212" stroke-width="0.8" stroke-linejoin="round"/>
<polygon points="65.30,299.30 68.80,296.90 71.20,296.90 74.70,299.30 71.20,301.70 68.80,301.70" fill="#22c822" stroke="#22c822" stroke-width="0.8" stroke-linejoin="round"/>
<polygon points="90.20,250.40 93.70,248.00 96.10,248.00 99.60,250.40 96.10,252.80 93.70,252.80" fill="#22c822" stroke="#22c822" stroke-width="0.8" stroke-linejoin="round"/>
<polygon points="115.20,212.10 118.70,209.70 121.10,209.70 124.60,212.10 121.10,214.50 118.70,214.50" fill="#22c822" stroke="#22c822" stroke-width="0.8" stroke-linejoin="round"/>
<polygon points="140.50,179.40 144.00,177.00 146.40,177.00 149.90,179.40 146.40,181.80 144.00,181.80" fill="#22c822" stroke="#22c822" stroke-width="0.8" stroke-linejoin="round"/>
<polygon points="165.60,140.60 169.10,138.20 171.50,138.20 175.00,140.60 171.50,143.00 169.10,143.00" fill="#22c822" stroke="#22c822" stroke-width="0.8" stroke-linejoin="round"/>
<polygon points="190.70,109.30 194.20,106.90 196.60,106.90 200.10,109.30 196.60,111.70 194.20,111.70" fill="#22c822" stroke="#22c822" stroke-width="0.8" stroke-linejoin="round"/>
<polygon points="215.80,88.60 219.30,86.20 221.70,86.20 225.20,88.60 221.70,91.00 219.30,91.00" fill="#22c822" stroke="#22c822" stroke-width="0.8" stroke-linejoin="round"/>
<polygon points="241.30,51.60 244.80,49.20 247.20,49.20 250.70,51.60 247.20,54.00 244.80,54.00" fill="#22c822" stroke="#22c822" stroke-width="0.8" stroke-linejoin="round"/>
<polygon points="266.30,24.30 269.80,21.90 272.20,21.90 275.70,24.30 272.20,26.70 269.80,26.70" fill="#22c822" stroke="#22c822" stroke-width="0.8" stroke-linejoin="round"/>
<polygon points="291.60,17.40 295.10,15.00 297.50,15.00 301.00,17.40 297.50,19.80 295.10,19.80" fill="#22c822" stroke="#22c822" stroke-width="0.8" stroke-linejoin="round"/>
<circle cx="70.00" cy="316.60" r="3.45" fill="#12a2ff"/>
<circle cx="95.10" cy="267.40" r="3.45" fill="#12a2ff"/>
<circle cx="120.00" cy="236.60" r="3.45" fill="#12a2ff"/>
<circle cx="145.20" cy="198.70" r="3.45" fill="#12a2ff"/>
<circle cx="170.20" cy="173.70" r="3.45" fill="#12a2ff"/>
<circle cx="195.40" cy="138.40" r="3.45" fill="#12a2ff"/>
<circle cx="220.60" cy="113.20" r="3.45" fill="#12a2ff"/>
<circle cx="245.80" cy="92.80" r="3.45" fill="#12a2ff"/>
<circle cx="271.10" cy="57.10" r="3.45" fill="#12a2ff"/>
<circle cx="296.30" cy="33.30" r="3.45" fill="#12a2ff"/>
<circle cx="321.20" cy="10.70" r="3.45" fill="#12a2ff"/>
<circle cx="346.70" cy="16.00" r="3.45" fill="#12a2ff"/>
<polygon points="70.00,326.15 73.25,329.40 70.00,332.65 66.75,329.40" fill="#1c1cc6"/>
<polygon points="95.10,271.65 98.35,274.90 95.10,278.15 91.85,274.90" fill="#1c1cc6"/>
<polygon points="120.00,236.05 123.25,239.30 120.00,242.55 116.75,239.30" fill="#1c1cc6"/>
<polygon points="145.20,214.55 148.45,217.80 145.20,221.05 141.95,217.80" fill="#1c1cc6"/>
<polygon points="170.20,174.95 173.45,178.20 170.20,181.45 166.95,178.20" fill="#1c1cc6"/>
<polygon points="195.40,156.25 198.65,159.50 195.40,162.75 192.15,159.50" fill="#1c1cc6"/>
<polygon points="220.50,135.05 223.75,138.30 220.50,141.55 217.25,138.30" fill="#1c1cc6"/>
<polygon points="245.80,114.95 249.05,118.20 245.80,121.45 242.55,118.20" fill="#1c1cc6"/>
<polygon points="271.10,89.85 274.35,93.10 271.10,96.35 267.85,93.10" fill="#1c1cc6"/>
<polygon points="296.30,56.15 299.55,59.40 296.30,62.65 293.05,59.40" fill="#1c1cc6"/>
<polygon points="321.20,47.25 324.45,50.50 321.20,53.75 317.95,50.50" fill="#1c1cc6"/>
<polygon points="346.70,31.65 349.95,34.90 346.70,38.15 343.45,34.90" fill="#1c1cc6"/>
</g>
<circle cx="116.0" cy="158.9" r="11.6" fill="none" stroke="#454545" stroke-width="1.9" stroke-dasharray="4.9 3.2"/>
<circle cx="195.9" cy="159.6" r="11.6" fill="none" stroke="#454545" stroke-width="1.9" stroke-dasharray="4.9 3.2"/>
<circle cx="120.3" cy="240.5" r="11.6" fill="none" stroke="#454545" stroke-width="1.9" stroke-dasharray="4.9 3.2"/>
<path d="M115.2,159.1 H188" stroke="#000" stroke-width="1.6"/>
<polygon points="186.4,153.8 197.6,159.1 186.4,164.4" fill="#000"/>
<g font-family="Liberation Sans, sans-serif" font-size="12" fill="#111" stroke="#111" stroke-width="0.25">
<text x="29.6" y="12.4" text-anchor="end">2.8</text>
<text x="29.6" y="75.1" text-anchor="end">2.6</text>
<text x="29.6" y="137.8" text-anchor="end">2.4</text>
<text x="29.6" y="200.6" text-anchor="end">2.2</text>
<text x="29.6" y="263.3" text-anchor="end">2.0</text>
<text x="29.6" y="326.0" text-anchor="end">1.8</text>
<text x="44.6" y="350.9" text-anchor="middle">0.05</text>
<text x="107.5" y="350.9" text-anchor="middle">0.10</text>
<text x="170.4" y="350.9" text-anchor="middle">0.15</text>
<text x="233.3" y="350.9" text-anchor="middle">0.20</text>
<text x="296.2" y="350.9" text-anchor="middle">0.25</text>
<text x="359.1" y="350.9" text-anchor="middle">0.30</text>
<text x="172.1" y="370.1" font-size="11.9" textLength="97.0" lengthAdjust="spacingAndGlyphs">Pulse energy [mJ]</text>
<text transform="translate(10.6,172.2) rotate(-90)" text-anchor="middle" font-size="12.2" textLength="132.4" lengthAdjust="spacingAndGlyphs">Average charge state [q]</text>
<text x="102" y="145" font-size="14.4">A</text>
<text x="211.6" y="175" font-size="14.6">B</text>
<text x="131.4" y="263.8" font-size="14.6">C</text>
</g>
<g font-family="Liberation Sans, sans-serif" font-size="10.5" fill="#111" stroke="#111" stroke-width="0.25">
<polygon points="52.00,21.20 54.85,25.10 54.85,26.30 52.00,30.20 49.15,26.30 49.15,25.10" fill="#ff1212" stroke="#ff1212" stroke-width="0.8" stroke-linejoin="round"/>
<path d="M67.4,25.7 H87.2" stroke="#ff1212" stroke-width="1.7" stroke-dasharray="1.8 1.67"/>
<text x="91.6" y="29.5">85 fs</text>
<rect x="49.40" y="34.80" width="5.20" height="5.20" fill="#ff9a1e"/>
<path d="M67.4,37.4 H87.2" stroke="#ff9a1e" stroke-width="1.7" stroke-dasharray="1.8 1.67"/>
<text x="91.6" y="41.2">67 fs</text>
<polygon points="54.87,50.97 52.00,52.84 49.13,50.97 49.13,47.23 52.00,45.36 54.87,47.23" fill="#c8bf2c"/>
<path d="M67.4,49.1 H87.2" stroke="#c8bf2c" stroke-width="1.7" stroke-dasharray="1.8 1.67"/>
<text x="91.6" y="52.9">60 fs</text>
<polygon points="47.30,60.90 50.80,58.50 53.20,58.50 56.70,60.90 53.20,63.30 50.80,63.30" fill="#22c822" stroke="#22c822" stroke-width="0.8" stroke-linejoin="round"/>
<path d="M67.4,60.9 H87.2" stroke="#22c822" stroke-width="1.7" stroke-dasharray="1.8 1.67"/>
<text x="91.6" y="64.7">49 fs</text>
<circle cx="52.00" cy="72.60" r="3.45" fill="#12a2ff"/>
<path d="M67.4,72.6 H87.2" stroke="#12a2ff" stroke-width="1.7" stroke-dasharray="1.8 1.67"/>
<text x="91.6" y="76.4">37 fs</text>
<polygon points="52.00,80.75 55.25,84.00 52.00,87.25 48.75,84.00" fill="#1c1cc6"/>
<path d="M67.4,84.0 H87.2" stroke="#1c1cc6" stroke-width="1.7" stroke-dasharray="1.8 1.67"/>
<text x="91.6" y="87.8">30 fs</text>
</g>
<rect x="215.3" y="210.1" width="172.2" height="95.50000000000003" fill="#fff"/>
<path d="M233.2,210.1 V305.6 M250.1,210.1 V305.6 M267.0,210.1 V305.6 M283.9,210.1 V305.6 M300.8,210.1 V305.6 M317.7,210.1 V305.6 M334.6,210.1 V305.6 M351.5,210.1 V305.6 M368.4,210.1 V305.6" stroke="#c0c0f6" stroke-width="0.9" stroke-dasharray="1 1.1" fill="none"/>
<clipPath id="icp"><rect x="215.3" y="210.1" width="172.2" height="95.50000000000003"/></clipPath>
<g clip-path="url(#icp)">
<clipPath id="b1"><rect x="217.83" y="285.74" width="3.45" height="22.86"/></clipPath><rect x="217.83" y="285.74" width="3.45" height="22.86" fill="#fff"/><path d="M219.55,286.94 V305.6" stroke="#22c022" stroke-width="1.5" stroke-dasharray="2.6 1.8"/><rect x="217.83" y="285.74" width="3.45" height="22.86" rx="0.4" fill="none" stroke="#22c022" stroke-width="1.4"/>
<clipPath id="b2"><rect x="223.08" y="297.10" width="3.45" height="11.50"/></clipPath><rect x="223.08" y="297.10" width="3.45" height="11.50" fill="#fff"/><path d="M221.80,286.80 L227.80,280.80 M221.80,297.30 L227.80,291.30 M221.80,307.80 L227.80,301.80 M221.80,318.30 L227.80,312.30 M221.80,328.80 L227.80,322.80" stroke="#ff1a1a" stroke-width="1.75" clip-path="url(#b2)"/><rect x="223.08" y="297.10" width="3.45" height="11.50" rx="0.4" fill="none" stroke="#ff1a1a" stroke-width="1.4"/>
<clipPath id="b3"><rect x="228.03" y="298.63" width="3.45" height="9.97"/></clipPath><rect x="228.03" y="298.63" width="3.45" height="9.97" fill="#fff"/><path d="M226.75,281.25 L232.75,287.25 M226.75,291.75 L232.75,297.75 M226.75,302.25 L232.75,308.25 M226.75,312.75 L232.75,318.75" stroke="#1a1aff" stroke-width="1.75" clip-path="url(#b3)"/><rect x="228.03" y="298.63" width="3.45" height="9.97" rx="0.4" fill="none" stroke="#1a1aff" stroke-width="1.4"/>
<clipPath id="b4"><rect x="234.79" y="285.74" width="3.45" height="22.86"/></clipPath><rect x="234.79" y="285.74" width="3.45" height="22.86" fill="#fff"/><path d="M236.51,286.94 V305.6" stroke="#22c022" stroke-width="1.5" stroke-dasharray="2.6 1.8"/><rect x="234.79" y="285.74" width="3.45" height="22.86" rx="0.4" fill="none" stroke="#22c022" stroke-width="1.4"/>
<clipPath id="b5"><rect x="240.04" y="294.42" width="3.45" height="14.18"/></clipPath><rect x="240.04" y="294.42" width="3.45" height="14.18" fill="#fff"/><path d="M238.76,280.34 L244.76,274.34 M238.76,290.84 L244.76,284.84 M238.76,301.34 L244.76,295.34 M238.76,311.84 L244.76,305.84 M238.76,322.34 L244.76,316.34" stroke="#ff1a1a" stroke-width="1.75" clip-path="url(#b5)"/><rect x="240.04" y="294.42" width="3.45" height="14.18" rx="0.4" fill="none" stroke="#ff1a1a" stroke-width="1.4"/>
<clipPath id="b6"><rect x="244.99" y="293.09" width="3.45" height="15.51"/></clipPath><rect x="244.99" y="293.09" width="3.45" height="15.51" fill="#fff"/><path d="M243.71,277.21 L249.71,283.21 M243.71,287.71 L249.71,293.71 M243.71,298.21 L249.71,304.21 M243.71,308.71 L249.71,314.71 M243.71,319.21 L249.71,325.21" stroke="#1a1aff" stroke-width="1.75" clip-path="url(#b6)"/><rect x="244.99" y="293.09" width="3.45" height="15.51" rx="0.4" fill="none" stroke="#1a1aff" stroke-width="1.4"/>
<clipPath id="b7"><rect x="251.75" y="285.74" width="3.45" height="22.86"/></clipPath><rect x="251.75" y="285.74" width="3.45" height="22.86" fill="#fff"/><path d="M253.47,286.94 V305.6" stroke="#22c022" stroke-width="1.5" stroke-dasharray="2.6 1.8"/><rect x="251.75" y="285.74" width="3.45" height="22.86" rx="0.4" fill="none" stroke="#22c022" stroke-width="1.4"/>
<clipPath id="b8"><rect x="257.00" y="289.75" width="3.45" height="18.85"/></clipPath><rect x="257.00" y="289.75" width="3.45" height="18.85" fill="#fff"/><path d="M255.72,273.88 L261.72,267.88 M255.72,284.38 L261.72,278.38 M255.72,294.88 L261.72,288.88 M255.72,305.38 L261.72,299.38 M255.72,315.88 L261.72,309.88" stroke="#ff1a1a" stroke-width="1.75" clip-path="url(#b8)"/><rect x="257.00" y="289.75" width="3.45" height="18.85" rx="0.4" fill="none" stroke="#ff1a1a" stroke-width="1.4"/>
<clipPath id="b9"><rect x="261.94" y="288.61" width="3.45" height="19.99"/></clipPath><rect x="261.94" y="288.61" width="3.45" height="19.99" fill="#fff"/><path d="M260.67,273.17 L266.67,279.17 M260.67,283.67 L266.67,289.67 M260.67,294.17 L266.67,300.17 M260.67,304.67 L266.67,310.67 M260.67,315.17 L266.67,321.17" stroke="#1a1aff" stroke-width="1.75" clip-path="url(#b9)"/><rect x="261.94" y="288.61" width="3.45" height="19.99" rx="0.4" fill="none" stroke="#1a1aff" stroke-width="1.4"/>
<clipPath id="b10"><rect x="268.70" y="285.74" width="3.45" height="22.86"/></clipPath><rect x="268.70" y="285.74" width="3.45" height="22.86" fill="#fff"/><path d="M270.43,286.94 V305.6" stroke="#22c022" stroke-width="1.5" stroke-dasharray="2.6 1.8"/><rect x="268.70" y="285.74" width="3.45" height="22.86" rx="0.4" fill="none" stroke="#22c022" stroke-width="1.4"/>
<clipPath id="b11"><rect x="273.95" y="285.74" width="3.45" height="22.86"/></clipPath><rect x="273.95" y="285.74" width="3.45" height="22.86" fill="#fff"/><path d="M272.68,277.92 L278.68,271.92 M272.68,288.42 L278.68,282.42 M272.68,298.92 L278.68,292.92 M272.68,309.42 L278.68,303.42 M272.68,319.92 L278.68,313.92 M272.68,330.42 L278.68,324.42" stroke="#ff1a1a" stroke-width="1.75" clip-path="url(#b11)"/><rect x="273.95" y="285.74" width="3.45" height="22.86" rx="0.4" fill="none" stroke="#ff1a1a" stroke-width="1.4"/>
<clipPath id="b12"><rect x="278.90" y="285.74" width="3.45" height="22.86"/></clipPath><rect x="278.90" y="285.74" width="3.45" height="22.86" fill="#fff"/><path d="M277.63,269.13 L283.63,275.13 M277.63,279.63 L283.63,285.63 M277.63,290.13 L283.63,296.13 M277.63,300.63 L283.63,306.63 M277.63,311.13 L283.63,317.13 M277.63,321.63 L283.63,327.63" stroke="#1a1aff" stroke-width="1.75" clip-path="url(#b12)"/><rect x="278.90" y="285.74" width="3.45" height="22.86" rx="0.4" fill="none" stroke="#1a1aff" stroke-width="1.4"/>
<clipPath id="b13"><rect x="285.66" y="285.74" width="3.45" height="22.86"/></clipPath><rect x="285.66" y="285.74" width="3.45" height="22.86" fill="#fff"/><path d="M287.39,286.94 V305.6" stroke="#22c022" stroke-width="1.5" stroke-dasharray="2.6 1.8"/><rect x="285.66" y="285.74" width="3.45" height="22.86" rx="0.4" fill="none" stroke="#22c022" stroke-width="1.4"/>
<clipPath id="b14"><rect x="290.91" y="282.73" width="3.45" height="25.87"/></clipPath><rect x="290.91" y="282.73" width="3.45" height="25.87" fill="#fff"/><path d="M289.64,271.46 L295.64,265.46 M289.64,281.96 L295.64,275.96 M289.64,292.46 L295.64,286.46 M289.64,302.96 L295.64,296.96 M289.64,313.46 L295.64,307.46 M289.64,323.96 L295.64,317.96" stroke="#ff1a1a" stroke-width="1.75" clip-path="url(#b14)"/><rect x="290.91" y="282.73" width="3.45" height="25.87" rx="0.4" fill="none" stroke="#ff1a1a" stroke-width="1.4"/>
<clipPath id="b15"><rect x="295.86" y="280.73" width="3.45" height="27.87"/></clipPath><rect x="295.86" y="280.73" width="3.45" height="27.87" fill="#fff"/><path d="M294.59,265.09 L300.59,271.09 M294.59,275.59 L300.59,281.59 M294.59,286.09 L300.59,292.09 M294.59,296.59 L300.59,302.59 M294.59,307.09 L300.59,313.09 M294.59,317.59 L300.59,323.59" stroke="#1a1aff" stroke-width="1.75" clip-path="url(#b15)"/><rect x="295.86" y="280.73" width="3.45" height="27.87" rx="0.4" fill="none" stroke="#1a1aff" stroke-width="1.4"/>
<clipPath id="b16"><rect x="302.62" y="285.74" width="3.45" height="22.86"/></clipPath><rect x="302.62" y="285.74" width="3.45" height="22.86" fill="#fff"/><path d="M304.35,286.94 V305.6" stroke="#22c022" stroke-width="1.5" stroke-dasharray="2.6 1.8"/><rect x="302.62" y="285.74" width="3.45" height="22.86" rx="0.4" fill="none" stroke="#22c022" stroke-width="1.4"/>
<clipPath id="b17"><rect x="307.88" y="273.72" width="3.45" height="34.88"/></clipPath><rect x="307.88" y="273.72" width="3.45" height="34.88" fill="#fff"/><path d="M306.60,265.00 L312.60,259.00 M306.60,275.50 L312.60,269.50 M306.60,286.00 L312.60,280.00 M306.60,296.50 L312.60,290.50 M306.60,307.00 L312.60,301.00 M306.60,317.50 L312.60,311.50 M306.60,328.00 L312.60,322.00" stroke="#ff1a1a" stroke-width="1.75" clip-path="url(#b17)"/><rect x="307.88" y="273.72" width="3.45" height="34.88" rx="0.4" fill="none" stroke="#ff1a1a" stroke-width="1.4"/>
<clipPath id="b18"><rect x="312.82" y="274.92" width="3.45" height="33.68"/></clipPath><rect x="312.82" y="274.92" width="3.45" height="33.68" fill="#fff"/><path d="M311.55,261.05 L317.55,267.05 M311.55,271.55 L317.55,277.55 M311.55,282.05 L317.55,288.05 M311.55,292.55 L317.55,298.55 M311.55,303.05 L317.55,309.05 M311.55,313.55 L317.55,319.55 M311.55,324.05 L317.55,330.05" stroke="#1a1aff" stroke-width="1.75" clip-path="url(#b18)"/><rect x="312.82" y="274.92" width="3.45" height="33.68" rx="0.4" fill="none" stroke="#1a1aff" stroke-width="1.4"/>
<clipPath id="b19"><rect x="319.58" y="285.74" width="3.45" height="22.86"/></clipPath><rect x="319.58" y="285.74" width="3.45" height="22.86" fill="#fff"/><path d="M321.31,286.94 V305.6" stroke="#22c022" stroke-width="1.5" stroke-dasharray="2.6 1.8"/><rect x="319.58" y="285.74" width="3.45" height="22.86" rx="0.4" fill="none" stroke="#22c022" stroke-width="1.4"/>
<clipPath id="b20"><rect x="324.83" y="265.03" width="3.45" height="43.57"/></clipPath><rect x="324.83" y="265.03" width="3.45" height="43.57" fill="#fff"/><path d="M323.56,248.04 L329.56,242.04 M323.56,258.54 L329.56,252.54 M323.56,269.04 L329.56,263.04 M323.56,279.54 L329.56,273.54 M323.56,290.04 L329.56,284.04 M323.56,300.54 L329.56,294.54 M323.56,311.04 L329.56,305.04 M323.56,321.54 L329.56,315.54" stroke="#ff1a1a" stroke-width="1.75" clip-path="url(#b20)"/><rect x="324.83" y="265.03" width="3.45" height="43.57" rx="0.4" fill="none" stroke="#ff1a1a" stroke-width="1.4"/>
<clipPath id="b21"><rect x="329.78" y="265.57" width="3.45" height="43.03"/></clipPath><rect x="329.78" y="265.57" width="3.45" height="43.03" fill="#fff"/><path d="M328.51,246.51 L334.51,252.51 M328.51,257.01 L334.51,263.01 M328.51,267.51 L334.51,273.51 M328.51,278.01 L334.51,284.01 M328.51,288.51 L334.51,294.51 M328.51,299.01 L334.51,305.01 M328.51,309.51 L334.51,315.51 M328.51,320.01 L334.51,326.01" stroke="#1a1aff" stroke-width="1.75" clip-path="url(#b21)"/><rect x="329.78" y="265.57" width="3.45" height="43.03" rx="0.4" fill="none" stroke="#1a1aff" stroke-width="1.4"/>
<clipPath id="b22"><rect x="336.54" y="285.74" width="3.45" height="22.86"/></clipPath><rect x="336.54" y="285.74" width="3.45" height="22.86" fill="#fff"/><path d="M338.27,286.94 V305.6" stroke="#22c022" stroke-width="1.5" stroke-dasharray="2.6 1.8"/><rect x="336.54" y="285.74" width="3.45" height="22.86" rx="0.4" fill="none" stroke="#22c022" stroke-width="1.4"/>
<clipPath id="b23"><rect x="341.79" y="260.62" width="3.45" height="47.98"/></clipPath><rect x="341.79" y="260.62" width="3.45" height="47.98" fill="#fff"/><path d="M340.52,252.08 L346.52,246.08 M340.52,262.58 L346.52,256.58 M340.52,273.08 L346.52,267.08 M340.52,283.58 L346.52,277.58 M340.52,294.08 L346.52,288.08 M340.52,304.58 L346.52,298.58 M340.52,315.08 L346.52,309.08 M340.52,325.58 L346.52,319.58" stroke="#ff1a1a" stroke-width="1.75" clip-path="url(#b23)"/><rect x="341.79" y="260.62" width="3.45" height="47.98" rx="0.4" fill="none" stroke="#ff1a1a" stroke-width="1.4"/>
<clipPath id="b24"><rect x="346.74" y="268.04" width="3.45" height="40.56"/></clipPath><rect x="346.74" y="268.04" width="3.45" height="40.56" fill="#fff"/><path d="M345.47,252.97 L351.47,258.97 M345.47,263.47 L351.47,269.47 M345.47,273.97 L351.47,279.97 M345.47,284.47 L351.47,290.47 M345.47,294.97 L351.47,300.97 M345.47,305.47 L351.47,311.47 M345.47,315.97 L351.47,321.97" stroke="#1a1aff" stroke-width="1.75" clip-path="url(#b24)"/><rect x="346.74" y="268.04" width="3.45" height="40.56" rx="0.4" fill="none" stroke="#1a1aff" stroke-width="1.4"/>
<clipPath id="b25"><rect x="353.50" y="285.74" width="3.45" height="22.86"/></clipPath><rect x="353.50" y="285.74" width="3.45" height="22.86" fill="#fff"/><path d="M355.23,286.94 V305.6" stroke="#22c022" stroke-width="1.5" stroke-dasharray="2.6 1.8"/><rect x="353.50" y="285.74" width="3.45" height="22.86" rx="0.4" fill="none" stroke="#22c022" stroke-width="1.4"/>
<clipPath id="b26"><rect x="358.75" y="258.42" width="3.45" height="50.18"/></clipPath><rect x="358.75" y="258.42" width="3.45" height="50.18" fill="#fff"/><path d="M357.48,245.62 L363.48,239.62 M357.48,256.12 L363.48,250.12 M357.48,266.62 L363.48,260.62 M357.48,277.12 L363.48,271.12 M357.48,287.62 L363.48,281.62 M357.48,298.12 L363.48,292.12 M357.48,308.62 L363.48,302.62 M357.48,319.12 L363.48,313.12" stroke="#ff1a1a" stroke-width="1.75" clip-path="url(#b26)"/><rect x="358.75" y="258.42" width="3.45" height="50.18" rx="0.4" fill="none" stroke="#ff1a1a" stroke-width="1.4"/>
<clipPath id="b27"><rect x="363.70" y="257.22" width="3.45" height="51.38"/></clipPath><rect x="363.70" y="257.22" width="3.45" height="51.38" fill="#fff"/><path d="M362.43,238.43 L368.43,244.43 M362.43,248.93 L368.43,254.93 M362.43,259.43 L368.43,265.43 M362.43,269.93 L368.43,275.93 M362.43,280.43 L368.43,286.43 M362.43,290.93 L368.43,296.93 M362.43,301.43 L368.43,307.43 M362.43,311.93 L368.43,317.93" stroke="#1a1aff" stroke-width="1.75" clip-path="url(#b27)"/><rect x="363.70" y="257.22" width="3.45" height="51.38" rx="0.4" fill="none" stroke="#1a1aff" stroke-width="1.4"/>
<clipPath id="b28"><rect x="370.47" y="285.74" width="3.45" height="22.86"/></clipPath><rect x="370.47" y="285.74" width="3.45" height="22.86" fill="#fff"/><path d="M372.19,286.94 V305.6" stroke="#22c022" stroke-width="1.5" stroke-dasharray="2.6 1.8"/><rect x="370.47" y="285.74" width="3.45" height="22.86" rx="0.4" fill="none" stroke="#22c022" stroke-width="1.4"/>
<clipPath id="b29"><rect x="375.72" y="213.93" width="3.45" height="94.67"/></clipPath><rect x="375.72" y="213.93" width="3.45" height="94.67" fill="#fff"/><path d="M374.44,197.16 L380.44,191.16 M374.44,207.66 L380.44,201.66 M374.44,218.16 L380.44,212.16 M374.44,228.66 L380.44,222.66 M374.44,239.16 L380.44,233.16 M374.44,249.66 L380.44,243.66 M374.44,260.16 L380.44,254.16 M374.44,270.66 L380.44,264.66 M374.44,281.16 L380.44,275.16 M374.44,291.66 L380.44,285.66 M374.44,302.16 L380.44,296.16 M374.44,312.66 L380.44,306.66 M374.44,323.16 L380.44,317.16" stroke="#ff1a1a" stroke-width="1.75" clip-path="url(#b29)"/><rect x="375.72" y="213.93" width="3.45" height="94.67" rx="0.4" fill="none" stroke="#ff1a1a" stroke-width="1.4"/>
<clipPath id="b30"><rect x="380.67" y="220.94" width="3.45" height="87.66"/></clipPath><rect x="380.67" y="220.94" width="3.45" height="87.66" fill="#fff"/><path d="M379.39,202.89 L385.39,208.89 M379.39,213.39 L385.39,219.39 M379.39,223.89 L385.39,229.89 M379.39,234.39 L385.39,240.39 M379.39,244.89 L385.39,250.89 M379.39,255.39 L385.39,261.39 M379.39,265.89 L385.39,271.89 M379.39,276.39 L385.39,282.39 M379.39,286.89 L385.39,292.89 M379.39,297.39 L385.39,303.39 M379.39,307.89 L385.39,313.89 M379.39,318.39 L385.39,324.39" stroke="#1a1aff" stroke-width="1.75" clip-path="url(#b30)"/><rect x="380.67" y="220.94" width="3.45" height="87.66" rx="0.4" fill="none" stroke="#1a1aff" stroke-width="1.4"/>
</g>
<rect x="215.3" y="210.1" width="172.2" height="95.50000000000003" fill="none" stroke="#000" stroke-width="2"/>
<path d="M233.2,210.1 v3 M233.2,305.6 v-2.4 M250.1,210.1 v3 M250.1,305.6 v-2.4 M267.0,210.1 v3 M267.0,305.6 v-2.4 M283.9,210.1 v3 M283.9,305.6 v-2.4 M300.8,210.1 v3 M300.8,305.6 v-2.4 M317.7,210.1 v3 M317.7,305.6 v-2.4 M334.6,210.1 v3 M334.6,305.6 v-2.4 M351.5,210.1 v3 M351.5,305.6 v-2.4 M368.4,210.1 v3 M368.4,305.6 v-2.4" stroke="#000" stroke-width="1.2"/>
<g font-family="Liberation Sans, sans-serif" fill="#111" stroke="#111" stroke-width="0.2">
<text x="212" y="220.9" text-anchor="end" font-size="9.9">2.0</text>
<text x="212" y="247.7" text-anchor="end" font-size="9.9">1.6</text>
<text x="212" y="274.4" text-anchor="end" font-size="9.9">1.2</text>
<text x="212" y="301.1" text-anchor="end" font-size="9.9">0.8</text>
<text x="224.4" y="318.3" text-anchor="middle" font-size="10.2">1</text>
<text x="241.4" y="318.3" text-anchor="middle" font-size="10.2">2</text>
<text x="258.3" y="318.3" text-anchor="middle" font-size="10.2">3</text>
<text x="275.3" y="318.3" text-anchor="middle" font-size="10.2">4</text>
<text x="292.2" y="318.3" text-anchor="middle" font-size="10.2">5</text>
<text x="309.2" y="318.3" text-anchor="middle" font-size="10.2">6</text>
<text x="326.2" y="318.3" text-anchor="middle" font-size="10.2">7</text>
<text x="343.1" y="318.3" text-anchor="middle" font-size="10.2">8</text>
<text x="360.1" y="318.3" text-anchor="middle" font-size="10.2">9</text>
<text x="377.0" y="318.3" text-anchor="middle" font-size="10.2">10</text>
<text x="300.9" y="327.6" text-anchor="middle" font-size="10.6">Charge State [q]</text>
<text transform="translate(191.9,265.8) rotate(-90)" text-anchor="middle" font-size="10.45">Relative abundance</text>
<rect x="222.4" y="220.4" width="29.4" height="31.2" fill="#fff" stroke="#000" stroke-width="1"/>
<rect x="230.1" y="225.7" width="6.1" height="3.9" rx="0.7" fill="#fff" stroke="#ff1a1a" stroke-width="1.2"/>
<path d="M233.6,228.6 l1.6,-1.6" stroke="#ff1a1a" stroke-width="0.9"/>
<rect x="230.1" y="234.5" width="6.1" height="3.9" rx="0.7" fill="#fff" stroke="#1a1aff" stroke-width="1.2"/>
<rect x="230.1" y="243.3" width="6.1" height="4.0" rx="0.7" fill="#22c022" stroke="#22c022" stroke-width="1.2"/>
<path d="M231.6,245.2 h2.8 v1.2" stroke="#fff" stroke-width="0.9" fill="none"/>
<text x="243.4" y="230.4" font-size="8.3">A</text>
<text x="243.4" y="239.2" font-size="8.3">B</text>
<text x="243.4" y="248.0" font-size="8.3">C</text>
</g>
</svg>
</body></html>
